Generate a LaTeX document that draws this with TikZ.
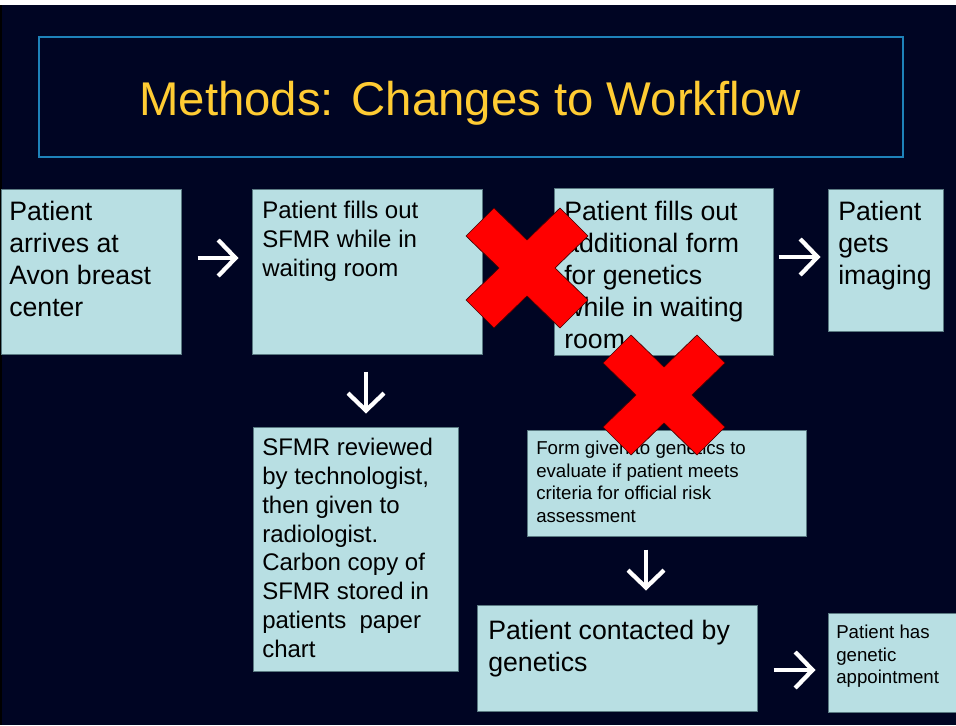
\documentclass[tikz,border=0pt]{standalone}
\usepackage{fontspec}
\setmainfont{Liberation Sans}
\usetikzlibrary{fit,arrows.meta}

\begin{document}
\begin{tikzpicture}[x=0.75pt,y=0.75pt,yscale=-1,xscale=1,
    box/.style={draw={rgb, 255:red, 90; green, 122; blue, 130 }, fill={rgb, 255:red, 184; green, 223; blue, 227 }, inner sep=0pt, line width=0.75pt},
    boxtext/.style={anchor=north west, inner sep=0pt, align=left, text={rgb, 255:red, 0; green, 0; blue, 0 }},
    bigtext/.style={boxtext, font=\fontsize{20}{24}\selectfont},
    midtext/.style={boxtext, font=\fontsize{18}{21.6}\selectfont},
    smalltext/.style={boxtext, font=\fontsize{14}{16.8}\selectfont},
    flowarrow/.style={draw=white, line width=3.2pt, -{Straight Barb[length=13pt, width=27pt, line width=3.2pt]}},
    redx/.style={draw={rgb, 255:red, 70; green, 0; blue, 0 }, fill={rgb, 255:red, 255; green, 0; blue, 0 }, line width=0.5pt}
  ]
  \useasboundingbox (0,0) rectangle (956,725);
  %Shape: Background
  \fill[fill={rgb, 255:red, 0; green, 5; blue, 35 }] (0,0) rectangle (956,725);
  \fill[fill=white] (0,0) rectangle (956,5);
  \fill[fill=black] (0,5) rectangle (2,725);

  %Shape: Title frame
  \node[draw={rgb, 255:red, 30; green, 130; blue, 185 }, line width=1pt, inner sep=0pt, fit={(39,37) (903,157)}] (titleframe) {};
  % Text Node
  \node[anchor=base, inner sep=0pt, text={rgb, 255:red, 255; green, 204; blue, 51 }, font=\fontsize{35.5}{43}\selectfont] (title) at (470,115) {Methods: Changes to Workflow};

  %Shape: Rectangle - top row
  \node[box, fit={(1,189) (181,354)}] (arrive) {};
  \node[box, fit={(252,189) (482,354)}] (sfmr) {};
  \node[box, fit={(554,188) (773,355)}] (addform) {};
  \node[box, fit={(828,189) (943,331)}] (imaging) {};
  %Shape: Rectangle - lower rows
  \node[box, fit={(253,427) (458,671)}] (reviewed) {};
  \node[box, fit={(527,430) (806,536)}] (formgiven) {};
  \node[box, fit={(477,605) (757,711)}] (contacted) {};
  \node[box, fit={(828,613) (960,712)}] (appointment) {};

  % Text Node
  \node[bigtext] (arrivetext) at (9,201) {Patient\\arrives at\\Avon breast\\center};
  \node[midtext] (sfmrtext) at (262,201) {Patient fills out\\SFMR while in\\waiting room};
  \node[bigtext] (addformtext) at (564,201) {Patient fills out\\additional form\\for genetics\\while in waiting\\room};
  \node[bigtext] (imagingtext) at (838,201) {Patient\\gets\\imaging};
  \node[midtext] (reviewedtext) at (262,438) {SFMR reviewed\\by technologist,\\then given to\\radiologist.\\Carbon copy of\\SFMR stored in\\patients\ \ paper\\chart};
  \node[smalltext] (formgiventext) at (536,441) {Form given to genetics to\\evaluate if patient meets\\criteria for official risk\\assessment};
  \node[bigtext] (contactedtext) at (488,620) {Patient contacted by\\genetics};
  \node[smalltext] (appointmenttext) at (836,625) {Patient has\\genetic\\appointment};

  %Straight Lines - arrows
  \draw[flowarrow, shorten <=12pt, shorten >=9.75pt] (arrive.east |- 0,258) -- (sfmr.west |- 0,258);
  \draw[flowarrow, shorten <=3.75pt, shorten >=5.25pt] (addform.east |- 0,257) -- (imaging.west |- 0,257);
  \draw[flowarrow, shorten <=12.75pt, shorten >=9.75pt] (sfmr.south -| 366,0) -- (reviewed.north -| 366,0);
  \draw[flowarrow, shorten <=9.75pt, shorten >=10.5pt] (formgiven.south -| 646,0) -- (contacted.north -| 646,0);
  \draw[flowarrow, shorten <=12pt, shorten >=9pt] (contacted.east |- 0,670) -- (appointment.west |- 0,670);

  %Shape: Multiply
  \draw[redx, shift={(527,268)}] (-61,-32) -- (-33,-60) -- (0,-28) -- (33,-60) -- (61,-32) -- (28,0) -- (61,32) -- (33,60) -- (0,28) -- (-33,60) -- (-61,32) -- (-28,0) -- cycle;
  %Shape: Multiply
  \draw[redx, shift={(664,395)}] (-61,-32) -- (-33,-60) -- (0,-28) -- (33,-60) -- (61,-32) -- (28,0) -- (61,32) -- (33,60) -- (0,28) -- (-33,60) -- (-61,32) -- (-28,0) -- cycle;
\end{tikzpicture}
\end{document}
